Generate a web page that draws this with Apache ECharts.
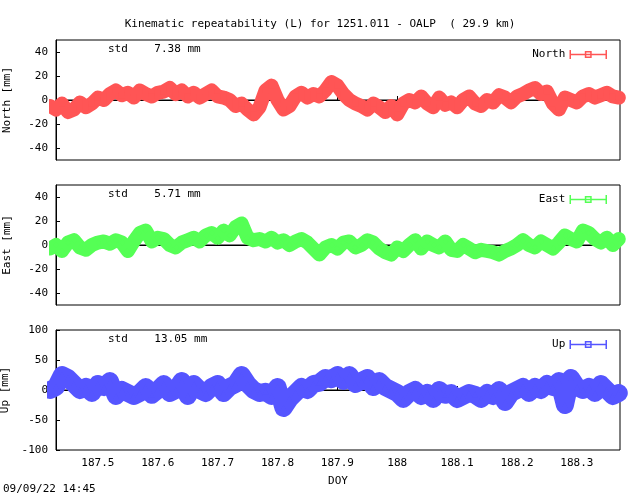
<!DOCTYPE html>
<html>
<head>
<meta charset="utf-8">
<script src="https://cdn.jsdelivr.net/npm/echarts@6/dist/echarts.min.js"></script>
<style>html,body{margin:0;padding:0;background:#fff}#main{width:640px;height:496px}</style>
</head>
<body>
<div id="main"></div>
<script>
// DOY sampling (every 0.01 day)
var doyStart = 187.42, doyStep = 0.01;
var north = [-5,-8,-3,-10,-8,-2,-6,-3,2,0, 5,8,4,6,2,8,5,3,6,7, 10,5,8,3,6,2,5,8,3,2,
  0,-5,-3,-8,-12,-6,8,12,0,-8, -5,3,6,2,5,3,8,15,12,5, 0,-3,-5,-8,-3,-6,-10,-5,-12,-3,
  0,-2,3,-3,-6,2,-4,-2,-6,0, 3,-3,-5,0,-2,4,2,-2,3,5, 8,10,5,7,-3,-8,2,0,-2,3, 5,2,4,6,3,2];
var east = [-3,0,-5,2,4,-2,-4,0,2,3, 1,4,2,-5,3,10,12,3,6,5, 0,-2,2,4,6,3,8,10,6,12,
  8,15,18,6,4,5,3,6,2,4, 0,3,5,2,-3,-8,-2,0,-3,2, 3,-2,0,4,2,-3,-6,-8,-2,-5,
  0,4,-3,3,0,-2,3,-4,-5,0, -3,-6,-4,-5,-6,-8,-5,-3,0,4, 0,-2,3,0,-3,2,8,5,3,12, 10,5,2,6,0,5];
var up = [0,5,25,20,10,0,5,-5,10,5, 15,-10,0,-5,-10,-5,5,-8,0,10, -5,0,15,-10,10,0,-5,5,10,-5,
  5,10,25,10,0,-5,-3,-10,5,-30, -15,-5,5,0,10,12,20,18,25,15, 25,10,15,20,5,15,5,0,-5,-15,
  -5,0,-10,-5,-15,0,-8,-5,-15,-10, -5,-8,-15,-5,-10,0,-20,-5,0,5, -5,5,0,10,5,15,-25,20,5,0, 5,-5,10,0,-10,-5];
var xTicks = [187.5,187.6,187.7,187.8,187.9,188,188.1,188.2,188.3];
var stds = ['7.38', '5.71', '13.05'];

function pts(arr) {
  return arr.map(function (v, i) { return [+(doyStart + i * doyStep).toFixed(2), v]; });
}
var font = 'DejaVu Sans Mono';
var tops = [40, 185, 330];
var names = ['North', 'East', 'Up'];
var colors = ['#ff5555', '#55ff55', '#5555ff'];
var symbols = ['rect', 'diamond', 'triangle'];
var datas = [north, east, up];
var xMin = 187.43, xMax = 188.372;

var grids = [], xAxes = [], yAxes = [], series = [], legends = [], graphics = [];
for (var k = 0; k < 3; k++) {
  grids.push({ left: 56, right: 20, top: tops[k], height: 120, show: true, borderColor: '#000', borderWidth: 1,
    outerBoundsMode: 'none', containLabel: false });
  xAxes.push({
    type: 'value', gridIndex: k, min: xMin, max: xMax,
    axisLine: { lineStyle: { color: '#000' } },
    axisTick: { show: true, inside: true, customValues: xTicks, length: 4, lineStyle: { color: '#000' } },
    axisLabel: { show: k === 2, customValues: xTicks, color: '#000', fontFamily: font, fontSize: 11,
      formatter: function (v) { return String(+v.toFixed(1)); } },
    splitLine: { show: false },
    name: k === 2 ? 'DOY' : '', nameLocation: 'middle', nameGap: 26,
    nameTextStyle: { color: '#000', fontFamily: font, fontSize: 11 }
  });
  var yv = k === 2 ? [-100,-50,0,50,100] : [-40,-20,0,20,40];
  var lim = k === 2 ? 100 : 50;
  yAxes.push({
    type: 'value', gridIndex: k, min: -lim, max: lim,
    axisLine: { show: true, lineStyle: { color: '#000' } },
    axisTick: { inside: true, length: 4, customValues: yv, lineStyle: { color: '#000' } },
    axisLabel: { customValues: yv, color: '#000', fontFamily: font, fontSize: 11 },
    splitLine: { show: false },
    name: names[k] + ' [mm]', nameLocation: 'middle', nameGap: 43,
    nameTextStyle: { color: '#000', fontFamily: font, fontSize: 11 }
  });
  series.push({
    type: 'line', name: 'zero' + k, xAxisIndex: k, yAxisIndex: k, z: 1, silent: true,
    data: [[xMin, 0], [xMax, 0]], symbol: 'none', lineStyle: { color: '#000', width: 1 }
  });
  series.push({
    type: 'line', name: names[k], xAxisIndex: k, yAxisIndex: k, z: 2,
    data: pts(datas[k]), symbol: symbols[k], symbolSize: 6, showAllSymbol: true,
    itemStyle: { color: colors[k] },
    lineStyle: { color: colors[k], width: k === 2 ? 18 : 14, join: 'round', cap: 'round' }
  });
  legends.push({
    data: [{ name: names[k], icon: 'path://M0,5L40,5M0,0L0,10M40,0L40,10M17,2L23,2L23,8L17,8Z' }],
    right: 28, top: tops[k] + 4, itemWidth: 36, itemHeight: 10, align: 'right',
    textStyle: { color: '#000', fontFamily: font, fontSize: 11 },
    itemStyle: { color: 'transparent', borderColor: colors[k], borderWidth: 1.5 }
  });
  graphics.push({ type: 'text', left: 108, top: tops[k] + 4,
    style: { text: 'std    ' + stds[k] + ' mm', fill: '#000', font: '11px ' + font } });
}
graphics.push({ type: 'text', left: 3, top: 484, style: { text: '09/09/22 14:45', fill: '#000', font: '11px ' + font } });

var chart = echarts.init(document.getElementById('main'), null, { renderer: 'canvas' });
chart.setOption({
  animation: false,
  title: { text: 'Kinematic repeatability (L) for 1251.011 - OALP  ( 29.9 km)', left: 'center', top: 14,
    textStyle: { color: '#000', fontFamily: font, fontSize: 11, fontWeight: 'normal' } },
  grid: grids, xAxis: xAxes, yAxis: yAxes, legend: legends, series: series, graphic: graphics
});
</script>
</body>
</html>
